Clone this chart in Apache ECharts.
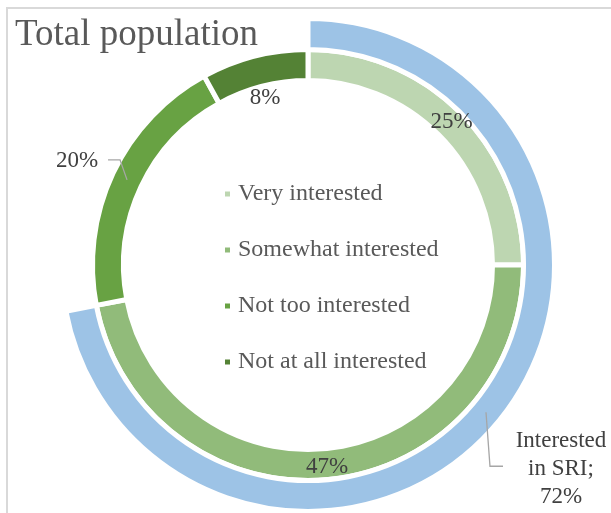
<!DOCTYPE html>
<html>
<head>
<meta charset="utf-8">
<script src="https://cdn.jsdelivr.net/npm/echarts@6/dist/echarts.min.js"></script>
<style>
  html, body { margin: 0; padding: 0; background: #ffffff; }
  #chart { width: 611px; height: 513px; }
</style>
</head>
<body>
<div id="chart"></div>
<script>
// Survey answers: share of the total population (percent)
const TITLE = 'Total population';
const CATEGORIES = ['Very interested', 'Somewhat interested', 'Not too interested', 'Not at all interested'];
const SHARES = [25, 47, 20, 8];

// Outer ring: everyone who is at least somewhat interested
const INTEREST_NAMES = ['Interested in SRI', 'Other'];
const INTEREST_SHARES = [72, 28];

// Styling / geometry
const FONT = 'Liberation Serif';
const GREENS = ['#BDD6B1', '#91BB7A', '#68A243', '#548235'];
const BLUE = '#9DC3E6';
const CX = 308, CY = 265;
const GAP = 5;                      // white gap between pieces
const INNER = [187, 213];           // visible radii of the answer ring
const OUTER = [218, 244];           // visible radii of the interest ring
const INNER_MID = (INNER[0] + INNER[1]) / 2;
const OUTER_MID = (OUTER[0] + OUTER[1]) / 2;
const LINE_COLOR = '#A6A6A6';
const OUTSIDE_ANSWER = 2;           // answer whose label sits outside the ring
const HOLE_ANSWER = 3;              // answer whose label sits inside the hole

// Point at radius R on the middle angle of slice i (clockwise from 12 o'clock)
function midPoint(values, i, R) {
  const total = values.reduce((a, b) => a + b, 0);
  let before = 0;
  for (let k = 0; k < i; k++) before += values[k];
  const a = (before + values[i] / 2) / total * 2 * Math.PI;
  return [CX + R * Math.sin(a), CY - R * Math.cos(a)];
}

// Leader lines: start in the middle of the ring, bend, then run horizontally
function answerLeader() {
  const p0 = midPoint(SHARES, OUTSIDE_ANSWER, INNER_MID);
  const p1 = [p0[0] - 7, p0[1] - 20];
  const p2 = [p1[0] - 12, p1[1]];
  return [p0, p1, p2];
}
function interestLeader() {
  const p0 = midPoint(INTEREST_SHARES, 0, OUTER_MID);
  const p1 = [p0[0] + 4, p0[1] + 54];
  const p2 = [p1[0] + 13, p1[1]];
  return [p0, p1, p2];
}

const chart = echarts.init(document.getElementById('chart'), null, { renderer: 'canvas' });

chart.setOption({
  animation: false,
  backgroundColor: '#ffffff',
  textStyle: { fontFamily: FONT },
  graphic: [
    {
      type: 'rect',
      silent: true,
      z: -1,
      shape: { x: 7, y: 8, width: 700, height: 600 },
      style: { fill: 'none', stroke: '#D9D9D9', lineWidth: 2 }
    },
    {
      type: 'polyline',
      silent: true,
      z: 10,
      shape: { points: answerLeader() },
      style: { fill: 'none', stroke: LINE_COLOR, lineWidth: 1.3 }
    },
    {
      type: 'polyline',
      silent: true,
      z: 10,
      shape: { points: interestLeader() },
      style: { fill: 'none', stroke: LINE_COLOR, lineWidth: 1.3 }
    }
  ],
  title: {
    text: TITLE,
    left: 15,
    top: 17,
    padding: 0,
    textStyle: { fontFamily: FONT, fontSize: 37, fontWeight: 'normal', color: '#595959' }
  },
  legend: {
    data: CATEGORIES,
    orient: 'vertical',
    left: 223,
    top: 182,
    padding: 0,
    icon: 'rect',
    itemWidth: 7,
    itemHeight: 7,
    itemGap: 32,
    selectedMode: false,
    textStyle: { fontFamily: FONT, fontSize: 24, lineHeight: 24, color: '#595959', padding: [0, 0, 0, 2] }
  },
  series: [
    {
      name: 'Answers',
      type: 'pie',
      silent: true,
      center: [CX, CY],
      radius: [INNER[0] - GAP / 2, INNER[1] + GAP / 2],
      startAngle: 90,
      clockwise: true,
      avoidLabelOverlap: false,
      emphasis: { disabled: true },
      itemStyle: { borderColor: '#ffffff', borderWidth: GAP },
      label: {
        show: true,
        position: 'inside',
        fontFamily: FONT,
        fontSize: 23,
        color: '#404040',
        formatter: p => p.value + '%'
      },
      labelLine: { show: false },
      data: CATEGORIES.map((name, i) => ({ name, value: SHARES[i], itemStyle: { color: GREENS[i] } })),
      labelLayout: function (p) {
        const i = p.dataIndex;
        if (i === HOLE_ANSWER) {
          const q = midPoint(SHARES, i, INNER_MID - 27);
          return { x: q[0], y: q[1] + 1, align: 'center', verticalAlign: 'middle' };
        }
        if (i === OUTSIDE_ANSWER) {
          const end = answerLeader()[2];
          return { x: end[0] - 10, y: end[1] + 1, align: 'right', verticalAlign: 'middle' };
        }
        return {};
      }
    },
    {
      name: 'Interest',
      type: 'pie',
      silent: true,
      center: [CX, CY],
      radius: [OUTER[0] - GAP / 2, OUTER[1] + GAP / 2],
      startAngle: 90,
      clockwise: true,
      avoidLabelOverlap: false,
      emphasis: { disabled: true },
      label: { show: false },
      labelLine: { show: false },
      data: INTEREST_NAMES.map((name, i) => {
        if (i === 0) {
          return {
            name, value: INTEREST_SHARES[i],
            itemStyle: { color: BLUE, borderColor: '#ffffff', borderWidth: GAP },
            label: {
              show: true,
              position: 'inside',
              fontFamily: FONT,
              fontSize: 23,
              lineHeight: 28,
              color: '#404040',
              align: 'center',
              formatter: p => p.name.replace(' ', '\n') + ';\n' + p.value + '%'
            }
          };
        }
        return { name, value: INTEREST_SHARES[i], itemStyle: { color: 'transparent', borderWidth: 0 } };
      }),
      labelLayout: function (p) {
        if (p.dataIndex !== 0) return {};
        const end = interestLeader()[2];
        return { x: end[0] + 58, y: end[1] + 3, align: 'center', verticalAlign: 'middle' };
      }
    }
  ]
});
</script>
</body>
</html>
